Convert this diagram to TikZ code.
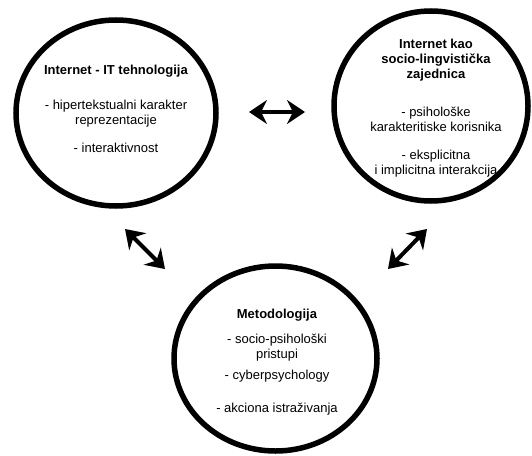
\documentclass[tikz,border=0pt]{standalone}
\usepackage{fontspec}
\setmainfont{Liberation Sans}
\usetikzlibrary{shapes.geometric}
\usetikzlibrary{arrows.meta}

\tikzset{
    topicCircle/.style={
        draw,
        ellipse,
        line width=5.5pt,
        inner sep=0pt
    },
    topicText/.style={
        align=center,
        font=\fontsize{13}{15}\selectfont
    },
    linkEdge/.style={
        arrows={Stealth[length=18pt,width=24pt,inset=6pt]-Stealth[length=18pt,width=24pt,inset=6pt]},
        line width=4pt
    },
}

\begin{document}
\begin{tikzpicture}[x=1pt,y=-1pt]
    \useasboundingbox (0,0) rectangle (532,455);

    % circles
    \node[topicCircle,minimum width=200pt,minimum height=186pt] (cTech) at (116,113) {};
    \node[topicCircle,minimum width=194pt,minimum height=190pt] (cSocio) at (431,106) {};
    \node[topicCircle,minimum width=203pt,minimum height=185pt] (cMethod) at (275.5,358.5) {};

    % texts
    \node[topicText] (tTech) at (116,109) {\textbf{Internet - IT tehnologija}\\[20pt]
        - hipertekstualni karakter\\ reprezentacije\\[13pt]
        - interaktivnost};
    \node[topicText] (tSocio) at (436,108) {\textbf{Internet kao}\\ \textbf{socio-lingvistička}\\ \textbf{zajednica}\\[23pt]
        - psihološke\\ karakteritiske korisnika\\[13pt]
        - eksplicitna\\ i implicitna interakcija};
    \node[topicText] (tMethod) at (277,362) {\textbf{Metodologija}\\[10pt]
        - socio-psihološki\\ pristupi\\[6pt]
        - cyberpsychology\\[18pt]
        - akciona istraživanja};

    % arrows
    \coordinate (hL) at (249,112);
    \coordinate (hR) at (305,112);
    \coordinate (dL1) at (125,229);
    \coordinate (dL2) at (165,269);
    \coordinate (dR1) at (427,229);
    \coordinate (dR2) at (388,269);

    \draw[linkEdge] (hL) -- (hR);
    \draw[linkEdge] (dL1) -- (dL2);
    \draw[linkEdge] (dR1) -- (dR2);
\end{tikzpicture}
\end{document}
